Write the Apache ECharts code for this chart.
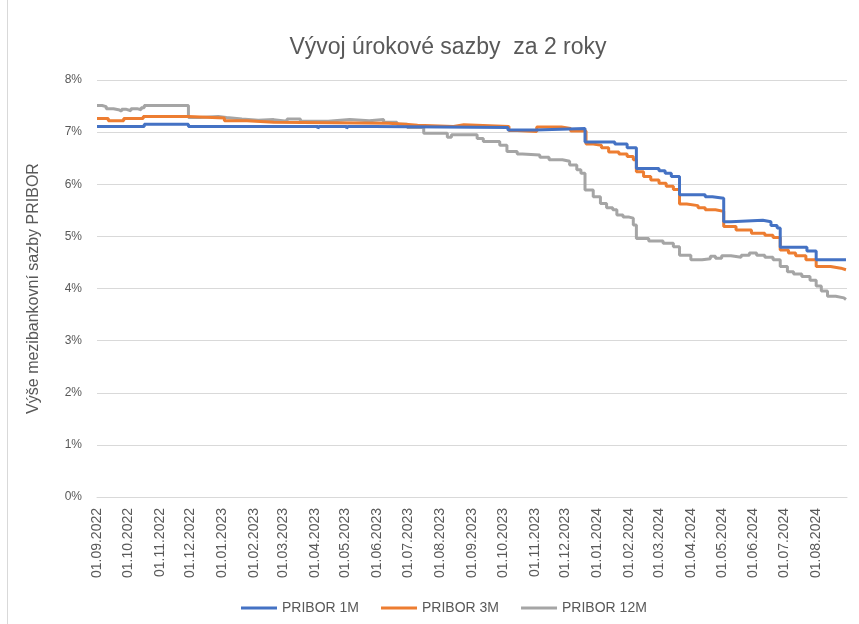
<!DOCTYPE html>
<html>
<head>
<meta charset="utf-8">
<script src="https://cdn.jsdelivr.net/npm/echarts@6/dist/echarts.min.js"></script>
<style>
html,body{margin:0;padding:0;background:#fff;}
#chart{width:859px;height:624px;}
</style>
</head>
<body>
<div id="chart"></div>
<script>
// ---- Data (change points; value holds until next date) ----
const seriesNames = ['PRIBOR 1M', 'PRIBOR 3M', 'PRIBOR 12M'];
const yTickLabels = ['0%','1%','2%','3%','4%','5%','6%','7%','8%'];

const dates1M = ['2022-09-01','2022-10-17','2022-11-29','2023-04-04','2023-04-05','2023-05-02','2023-05-03','2023-05-29','2023-10-06','2023-11-02','2023-12-20','2024-01-18','2024-01-30','2024-02-08','2024-03-01','2024-03-07','2024-03-13','2024-03-21','2024-04-15','2024-04-22','2024-05-03','2024-05-10','2024-06-10','2024-06-18','2024-06-24','2024-06-27','2024-07-23','2024-08-01','2024-08-30'];
const values1M = [7.11,7.15,7.11,7.07,7.11,7.07,7.11,7.09,7.04,7.07,6.81,6.77,6.70,6.30,6.26,6.21,6.15,5.80,5.76,5.73,5.28,5.31,5.28,5.21,5.16,4.79,4.72,4.55,4.55];

const dates3M = ['2022-09-01','2022-09-12','2022-09-27','2022-10-16','2022-11-29','2023-01-03','2023-01-25','2023-02-20','2023-06-12','2023-06-28','2023-07-10','2023-08-14','2023-08-24','2023-10-07','2023-10-15','2023-11-03','2023-11-27','2023-12-06','2023-12-21','2023-12-28','2024-01-05','2024-01-12','2024-01-22','2024-01-30','2024-02-05','2024-02-08','2024-02-15','2024-02-22','2024-03-01','2024-03-08','2024-03-15','2024-03-21','2024-03-28','2024-04-08','2024-04-15','2024-04-25','2024-05-03','2024-05-15','2024-05-30','2024-06-12','2024-06-20','2024-06-27','2024-07-05','2024-07-12','2024-07-22','2024-08-01','2024-08-15','2024-08-25','2024-08-30'];
const values3M = [7.26,7.22,7.26,7.30,7.27,7.22,7.19,7.17,7.15,7.13,7.11,7.14,7.11,7.03,7.01,7.10,7.07,7.02,6.77,6.75,6.70,6.62,6.58,6.53,6.47,6.24,6.15,6.08,6.02,5.96,5.90,5.62,5.59,5.55,5.51,5.48,5.19,5.12,5.06,5.02,4.98,4.74,4.68,4.63,4.55,4.42,4.39,4.36,4.36];

const dates12M = ['2022-09-01','2022-09-06','2022-09-10','2022-09-17','2022-09-22','2022-09-25','2022-09-29','2022-10-04','2022-10-10','2022-10-14','2022-10-17','2022-11-29','2022-12-10','2022-12-28','2023-01-05','2023-01-20','2023-02-05','2023-02-20','2023-03-05','2023-03-18','2023-04-14','2023-05-05','2023-05-24','2023-06-07','2023-06-20','2023-06-30','2023-07-16','2023-08-08','2023-08-12','2023-09-06','2023-09-12','2023-09-28','2023-10-05','2023-10-15','2023-10-20','2023-11-06','2023-11-15','2023-11-28','2023-12-05','2023-12-12','2023-12-16','2023-12-20','2023-12-28','2024-01-04','2024-01-10','2024-01-16','2024-01-20','2024-01-26','2024-02-01','2024-02-05','2024-02-08','2024-02-20','2024-03-05','2024-03-15','2024-03-21','2024-04-01','2024-04-12','2024-04-20','2024-04-25','2024-05-01','2024-05-10','2024-05-20','2024-05-28','2024-06-04','2024-06-12','2024-06-20','2024-06-27','2024-07-04','2024-07-10','2024-07-18','2024-07-26','2024-08-01','2024-08-06','2024-08-12','2024-08-20','2024-08-28','2024-08-30'];
const values12M = [7.51,7.49,7.45,7.43,7.40,7.44,7.41,7.45,7.43,7.47,7.51,7.28,7.30,7.28,7.25,7.23,7.24,7.21,7.25,7.21,7.24,7.22,7.24,7.19,7.15,7.09,6.98,6.90,6.95,6.88,6.82,6.75,6.63,6.58,6.56,6.52,6.47,6.44,6.37,6.28,6.21,5.89,5.76,5.63,5.55,5.51,5.41,5.37,5.35,5.22,4.96,4.91,4.87,4.80,4.64,4.55,4.57,4.62,4.58,4.63,4.60,4.64,4.68,4.64,4.60,4.55,4.42,4.32,4.28,4.23,4.16,4.05,3.95,3.85,3.82,3.79,3.79];

const colors = ['#4472C4', '#ED7D31', '#A5A5A5'];
const allDates = [dates1M, dates3M, dates12M];
const allValues = [values1M, values3M, values12M];

function pad(n){ return (n < 10 ? '0' : '') + n; }

const chart = echarts.init(document.getElementById('chart'));
const textColor = '#595959';
const fontFam = '"Liberation Sans", Arial, sans-serif';

chart.setOption({
  animation: false,
  backgroundColor: '#ffffff',
  color: colors,
  textStyle: { fontFamily: fontFam },
  title: {
    text: 'Vývoj úrokové sazby  za 2 roky',
    left: 443, top: 31, textAlign: 'center',
    textStyle: { fontSize: 23, fontWeight: 'normal', color: textColor, fontFamily: fontFam }
  },
  graphic: [{
    type: 'rect', silent: true,
    shape: { x: 7.5, y: -10, width: 900, height: 700 },
    style: { fill: 'none', stroke: '#d9d9d9', lineWidth: 1 }
  }],
  grid: { left: 97, right: 12, top: 80, bottom: 127, containLabel: false },
  legend: {
    bottom: 4, left: 236,
    icon: 'rect', itemWidth: 36, itemHeight: 3, itemGap: 22,
    textStyle: { color: textColor, fontSize: 14, fontFamily: fontFam },
    data: seriesNames
  },
  xAxis: {
    type: 'time',
    min: '2022-09-01',
    max: '2024-08-31',
    minInterval: 28 * 86400000,
    maxInterval: 31 * 86400000,
    splitNumber: 24,
    axisLine: { show: true, lineStyle: { color: '#d9d9d9', width: 1 } },
    axisTick: { show: false },
    splitLine: { show: false },
    axisLabel: {
      rotate: 90, color: textColor, fontSize: 14, margin: 11,
      showMaxLabel: false, hideOverlap: false,
      fontFamily: fontFam,
      formatter: function (v) {
        const d = new Date(v);
        return pad(d.getDate()) + '.' + pad(d.getMonth() + 1) + '.' + d.getFullYear();
      }
    }
  },
  yAxis: {
    type: 'value', min: 0, max: 8, interval: 1,
    name: 'Výše mezibankovní sazby PRIBOR',
    nameLocation: 'middle', nameGap: 55,
    nameTextStyle: { color: textColor, fontSize: 16, fontFamily: fontFam },
    axisLine: { show: false }, axisTick: { show: false },
    splitLine: { lineStyle: { color: '#d9d9d9', width: 1 } },
    axisLabel: {
      color: textColor, fontSize: 12, margin: 15, fontFamily: fontFam,
      formatter: function (v) { return yTickLabels[Math.round(v)]; }
    }
  },
  series: seriesNames.map(function (name, i) {
    return {
      name: name, type: 'line', step: 'end', showSymbol: false,
      lineStyle: { width: 3, color: colors[i] },
      itemStyle: { color: colors[i] },
      z: 3 - i,
      data: allDates[i].map(function (d, k) { return [d, allValues[i][k]]; })
    };
  })
});
</script>
</body>
</html>
